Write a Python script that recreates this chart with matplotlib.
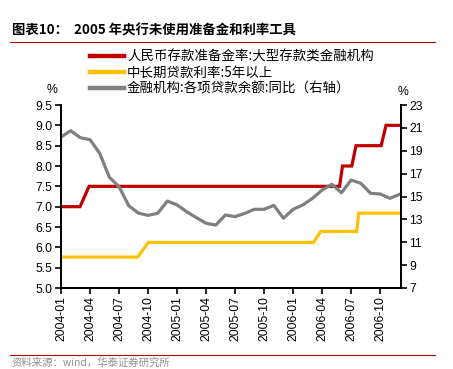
import matplotlib
matplotlib.use('Agg')
import matplotlib.pyplot as plt
from matplotlib.lines import Line2D
import numpy as np

# x positions in months since 2004-01
tick_labels = ['2004-01', '2004-04', '2004-07', '2004-10', '2005-01', '2005-04',
               '2005-07', '2005-10', '2006-01', '2006-04', '2006-07', '2006-10']

rrr_x = [0, 1.97, 2.9, 28.8, 29.1, 30.06, 30.5, 33.1, 33.6, 35.2]
rrr_y = [7.0, 7.0, 7.5, 7.5, 8.0, 8.0, 8.5, 8.5, 9.0, 9.0]

loan_rate_x = [0, 7.93, 9.03, 26.1, 26.85, 30.57, 30.78, 35.2]
loan_rate_y = [5.76, 5.76, 6.12, 6.12, 6.39, 6.39, 6.84, 6.84]

loan_growth = [20.2, 20.75, 20.14, 19.97, 18.78, 16.68, 15.86, 14.2, 13.55, 13.35,
               13.53, 14.6, 14.26, 13.67, 13.15, 12.66, 12.5, 13.38, 13.24, 13.53,
               13.88, 13.88, 14.23, 13.1, 13.88, 14.26, 14.84, 15.57, 16.07, 15.33,
               16.44, 16.15, 15.28, 15.22, 14.84, 15.19]

labels = ['人民币存款准备金率:大型存款类金融机构', '中长期贷款利率:5年以上',
          '金融机构:各项贷款余额:同比（右轴）']

RED = '#C00000'
YEL = '#FFC000'
GRY = '#7F7F7F'
cjk = ['Noto Sans CJK SC', 'DejaVu Sans']
num_font = 'Liberation Sans'

W, H = 453, 369
fig = plt.figure(figsize=(W / 100, H / 100), dpi=100)
ax = fig.add_axes([61 / W, 1 - 288 / H, (401 - 61) / W, (288 - 105) / H])
ax2 = ax.twinx()

ax.plot(rrr_x, rrr_y, color=RED, lw=2.3, solid_joinstyle='miter')
ax.plot(loan_rate_x, loan_rate_y, color=YEL, lw=2.3, solid_joinstyle='miter')
ax2.plot(np.arange(len(loan_growth)), loan_growth, color=GRY, lw=2.3)

ax.set_xlim(0, 35.15)
ax.set_ylim(5.0, 9.5)
ax.set_yticks(np.arange(5.0, 9.51, 0.5))
ax.set_yticklabels([f'{v:.1f}' for v in np.arange(5.0, 9.51, 0.5)])
ax2.set_ylim(7, 23)
ax2.set_yticks(np.arange(7, 24, 2))
ax.set_xticks(np.arange(0, 34, 3))
ax.set_xticklabels(tick_labels, rotation=90)

for a in (ax, ax2):
    a.spines['top'].set_visible(False)
    for s in ('left', 'right', 'bottom'):
        a.spines[s].set_linewidth(1.3)
    a.tick_params(direction='out', length=4, width=1.2, labelsize=8.8, pad=2)
    for t in a.get_xticklabels() + a.get_yticklabels():
        t.set_fontfamily(num_font)

fig.text(52 / W, 1 - 90 / H, '%', ha='center', va='center', fontsize=8.8, family=num_font)
fig.text(403 / W, 1 - 92 / H, '%', ha='center', va='center', fontsize=8.8, family=num_font)

# title and rules
fig.text(12 / W, 1 - 31 / H, '图表10：  2005 年央行未使用准备金和利率工具', fontsize=9.6,
         fontweight='bold', family=cjk, va='center', ha='left')
fig.add_artist(Line2D([10 / W, 435 / W], [1 - 42 / H, 1 - 42 / H], color=RED, lw=0.8))
fig.add_artist(Line2D([10 / W, 435 / W], [1 - 355 / H, 1 - 355 / H], color=RED, lw=0.8))
fig.text(12 / W, 1 - 362.5 / H, '资料来源：wind，华泰证券研究所', fontsize=7.5, color='#909090',
         family=cjk, va='center', ha='left')

handles = [Line2D([], [], color=c, lw=3.2) for c in (RED, YEL, GRY)]
fig.legend(handles, labels, loc='upper left', bbox_to_anchor=(90 / W, 1 - 50 / H),
           frameon=False, prop={'family': cjk, 'size': 9.7}, handlelength=2.5,
           handletextpad=0.25, labelspacing=0.12, borderpad=0, borderaxespad=0)

fig.savefig('out.png', dpi=100)
